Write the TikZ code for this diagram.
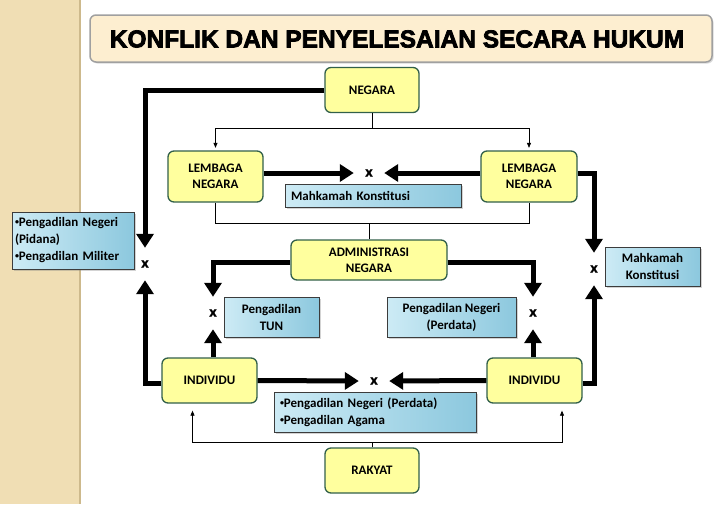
\documentclass[tikz,border=0pt]{standalone}
\usepackage{fontspec}
\setmainfont{Carlito}
\newfontfamily\titlefont[FakeBold=3]{Liberation Sans Bold}
\usetikzlibrary{arrows.meta,shadows}

\definecolor{stripfill}{RGB}{240,222,180}
\definecolor{stripline}{RGB}{205,185,140}
\definecolor{titlefill}{RGB}{253,238,208}
\definecolor{titleline}{RGB}{160,160,160}
\definecolor{boxfill}{RGB}{255,255,158}
\definecolor{boxline}{RGB}{50,96,74}
\definecolor{courtlight}{RGB}{205,235,245}
\definecolor{courtdark}{RGB}{140,200,222}
\definecolor{courtline}{RGB}{60,60,60}

\newcommand{\dotitem}{\raisebox{2pt}{\fontsize{8}{8}\selectfont\textbullet}}

\begin{document}
\begin{tikzpicture}[x=1pt, y=-1pt,
    party/.style={rectangle, rounded corners=6pt, fill=boxfill, draw=boxline, line width=1.3pt,
        font=\fontsize{13}{16}\selectfont\bfseries, align=center, inner sep=0pt},
    court/.style={rectangle, left color=courtlight, right color=courtdark, draw=courtline, line width=0.8pt,
        drop shadow={shadow xshift=1.5pt, shadow yshift=-1.5pt, opacity=0.35},
        font=\fontsize{13}{17}\selectfont\bfseries, inner sep=0pt},
    xmark/.style={rectangle, minimum width=30pt, minimum height=32pt, inner sep=0pt,
        font=\titlefont\fontsize{13}{13}\selectfont},
    big/.style={line width=5pt, -{Triangle[width=17pt,length=14pt]}},
    link/.style={line width=0.7pt, -{Triangle[width=4pt,length=5pt]}}]

    \useasboundingbox (0,0) rectangle (728,504);
    \fill [stripfill] (0,0) rectangle (80,504);
    \draw [stripline, line width=1.5pt] (80,0) -- (80,504);

    % title
    \node [rectangle, rounded corners=6pt, fill=titlefill, draw=titleline, line width=1.5pt,
        minimum width=622pt, minimum height=47pt,
        drop shadow={shadow xshift=1.5pt, shadow yshift=-1.5pt, opacity=0.3}] (title) at (401,38.5) {};
    \node (titletext) at (397,39) {\titlefont\fontsize{24.5}{25}\selectfont KONFLIK DAN PENYELESAIAN SECARA HUKUM};

    % parties
    \begin{scope}[every node/.style={party}]
        \node [minimum width=94pt, minimum height=45pt] (negara) at (372,90) {NEGARA};
        \node [minimum width=95pt, minimum height=51pt] (lembL) at (215.5,176.5) {LEMBAGA\\NEGARA};
        \node [minimum width=96pt, minimum height=51pt] (lembR) at (529,176.5) {LEMBAGA\\NEGARA};
        \node [minimum width=156pt, minimum height=40pt] (admin) at (369,260) {ADMINISTRASI\\NEGARA};
        \node [minimum width=95pt, minimum height=45pt] (indL) at (209.5,380.5) {INDIVIDU};
        \node [minimum width=95pt, minimum height=45pt] (indR) at (534.5,380.5) {INDIVIDU};
        \node [minimum width=94pt, minimum height=45pt] (rakyat) at (372,470.5) {RAKYAT};
    \end{scope}

    % courts
    \begin{scope}[every node/.style={court}]
        \node [minimum width=176pt, minimum height=23pt, text width=164pt, align=left] (mkTop) at (373,195.5) {Mahkamah Konstitusi};
        \node [minimum width=122pt, minimum height=57pt, text width=116pt, align=left] (pidana) at (73,240.5) {\dotitem Pengadilan Negeri\\(Pidana)\\\dotitem Pengadilan Militer};
        \node [minimum width=95pt, minimum height=39pt, align=center] (mkRight) at (652.5,266.5) {Mahkamah\\Konstitusi};
        \node [minimum width=95pt, minimum height=40pt, align=center] (tun) at (271.5,317) {Pengadilan\\TUN};
        \node [minimum width=129pt, minimum height=40pt, align=center] (perdata) at (451.5,317) {Pengadilan Negeri\\(Perdata)};
        \node [minimum width=202pt, minimum height=40pt, text width=190pt, align=left] (agama) at (375,412) {\dotitem Pengadilan Negeri (Perdata)\\\dotitem Pengadilan Agama};
    \end{scope}

    % conflict marks
    \begin{scope}[every node/.style={xmark}]
        \node (xTop) at (369,173) {x};
        \node (xLeft) at (145,264) {x};
        \node (xRight) at (594,269) {x};
        \node (xTun) at (213,313) {x};
        \node (xPerdata) at (533,313) {x};
        \node (xBottom) at (374,381) {x};
    \end{scope}

    % thin links
    \coordinate (topsplit) at (372,128);
    \coordinate (midsplit) at (369,223.5);
    \coordinate (botsplit) at (372,442);
    \draw [line width=0.7pt] (negara.south) -- (topsplit);
    \draw [link, shorten >=2.5pt] (topsplit) -| (lembL.north);
    \draw [link, shorten >=2.5pt] (topsplit) -| (lembR.north);
    \draw [line width=0.7pt] (lembL.south) |- (midsplit) -| (lembR.south);
    \draw [line width=0.7pt] (midsplit) -- (admin.north);
    \draw [line width=0.7pt] (rakyat.north) -- (botsplit);
    \draw [link, shorten >=7pt] (botsplit) -| ([xshift=-17pt]indL.south);
    \draw [link, shorten >=7pt] (botsplit) -| ([xshift=27.5pt]indR.south);

    % conflicts
    \draw [big] (negara.west) -| (xLeft.north);
    \draw [big] ([yshift=-3pt]indL.west) -| (xLeft.south);
    \draw [big] ([yshift=3.5pt]lembR.east) -| (xRight.north);
    \draw [big] ([yshift=-3pt]indR.east) -| (xRight.south);
    \draw [big] ([yshift=3.5pt]lembL.east) -- (xTop.west);
    \draw [big] ([yshift=3.5pt]lembR.west) -- (xTop.east);
    \draw [big] ([yshift=-2pt]admin.west) -| (xTun.north);
    \draw [big] ([yshift=-2pt]admin.east) -| (xPerdata.north);
    \draw [big] (indL.north -| xTun) -- (xTun.south);
    \draw [big] (indR.north -| xPerdata) -- (xPerdata.south);
    \draw [big] (indL.east) -- (xBottom.west);
    \draw [big] (indR.west) -- (xBottom.east);
\end{tikzpicture}
\end{document}
